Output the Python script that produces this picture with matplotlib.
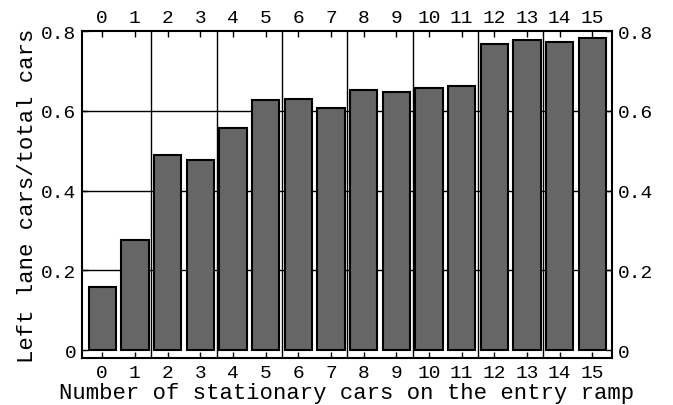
import numpy as np
import matplotlib.pyplot as plt

stationary = list(range(16))
left_share = [0.157, 0.277, 0.489, 0.476, 0.557, 0.628, 0.630, 0.608,
              0.653, 0.647, 0.657, 0.662, 0.769, 0.777, 0.772, 0.782]
y_ticks = [0, 0.2, 0.4, 0.6, 0.8]
y_labels = ["0", "0.2", "0.4", "0.6", "0.8"]

plt.rcParams['font.family'] = ['Liberation Mono', 'DejaVu Sans Mono']
plt.rcParams['font.size'] = 14

fig = plt.figure(figsize=(6.73, 4.06), dpi=100)
ax = fig.add_axes([0.1218, 0.1158, 0.7875, 0.805])

# grid first so the bars sit on top
for y in y_ticks[1:-1]:
    ax.axhline(y, color='k', lw=1, zorder=1)
for x in np.arange(1.5, 15, 2):
    ax.axvline(x, color='k', lw=1, zorder=1)

ax.bar(stationary, left_share, width=0.84, color='#666666',
       edgecolor='k', linewidth=1.5, zorder=2)

ax.set_xlim(-0.62, 15.6)
ax.set_ylim(-0.02, 0.8)
ax.set_xticks(stationary)
ax.set_yticks(y_ticks)
ax.set_yticklabels(y_labels)
ax.tick_params(direction='in', length=4, width=1, top=True, right=True,
               labeltop=True, labelright=True, labelsize=14)
ax.tick_params(axis='x', pad=4)
ax.tick_params(axis='y', pad=4)
for s in ax.spines.values():
    s.set_linewidth(1.5)

ax.set_xlabel("Number of stationary cars on the entry ramp", fontsize=16,
              labelpad=1)
ax.set_ylabel("Left lane cars/total cars", fontsize=16, labelpad=2)

fig.savefig("out.png", dpi=100)
